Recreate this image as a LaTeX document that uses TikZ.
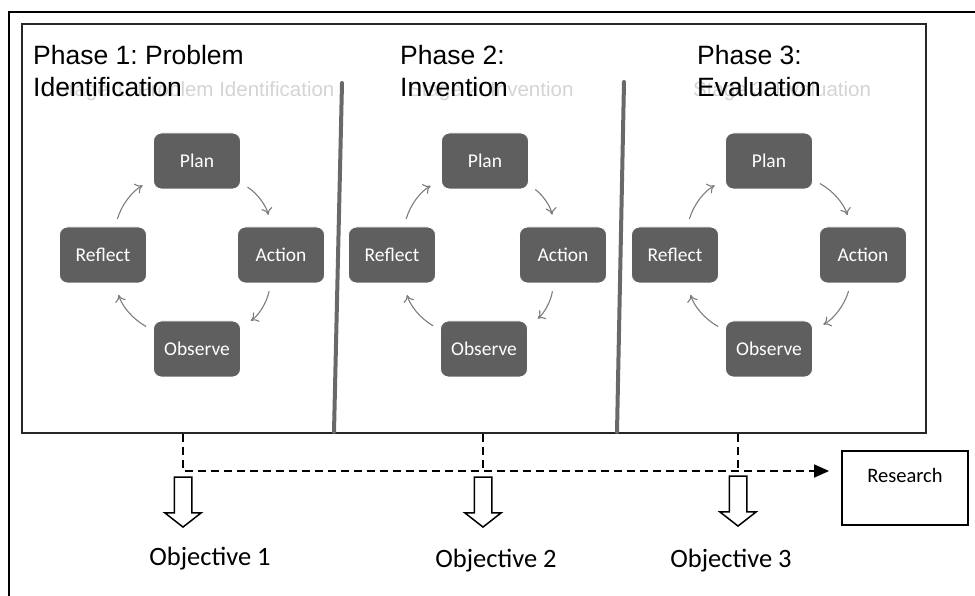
\documentclass[tikz,border=0pt]{standalone}
\usepackage{fontspec}
\setmainfont{Carlito}
\newfontfamily\headfont{Liberation Sans}
\usepackage{tikz}
\usetikzlibrary{arrows.meta,shapes.arrows}
\frenchspacing

\definecolor{boxgrey}{RGB}{95,95,95}
\definecolor{arcgrey}{RGB}{125,125,125}
\definecolor{sepgrey}{RGB}{105,105,105}

\tikzset{
  stepbox/.style={rectangle, rounded corners=8pt, fill=boxgrey, draw=white,
    line width=0.8pt, minimum width=87pt, minimum height=56pt, inner sep=0pt,
    text=white, font=\fontsize{19.5}{22}\selectfont},
  cyc/.style={draw=arcgrey, line width=1.1pt, -{To[length=7pt,width=11pt]},
    bend left=22, shorten <=8pt, shorten >=12pt},
  phasetext/.style={anchor=north west, inner sep=0pt, align=left,
    font=\headfont\fontsize{26.5}{32.5}\selectfont},
  ghost/.style={anchor=base west, inner sep=0pt, text=black!17,
    font=\headfont\fontsize{20.5}{24}\selectfont},
  hollow/.style={single arrow, draw, line width=1.5pt, fill=white,
    shape border rotate=270, minimum height=50pt, inner sep=8pt,
    single arrow head extend=9.5pt, single arrow tip angle=104},
  objtext/.style={anchor=base, inner sep=0pt, font=\fontsize{26.5}{30}\selectfont},
  busline/.style={line width=1.5pt, dash pattern=on 8pt off 5pt},
  sepline/.style={draw=sepgrey, line width=4pt, line cap=round}
}

\begin{document}
\begin{tikzpicture}[x=1pt, y=1pt]
	\useasboundingbox (0,0) rectangle (975,595);
	\draw [ line width=2pt ] (9,-10) rectangle (990,583);
	\node [ draw=black!85, line width=1.5pt, minimum width=904pt, minimum height=409pt ] (frame) at (474,366.5) {};

	% dividers between the phases
	\draw [ sepline ] (342,512) -- (334,163);
	\draw [ sepline ] (624,513) -- (617,163);

	% headings
	\node [ ghost ] (ghost1) at (55,498) {Stage 1: Problem Identification};
	\node [ ghost ] (ghost2) at (408,498) {Stage 2: Invention};
	\node [ ghost ] (ghost3) at (693,498) {Stage 3: Evaluation};
	\node [ phasetext ] (phase1) at (33,550) {Phase 1: Problem\\Identification};
	\node [ phasetext ] (phase2) at (400,550) {Phase 2:\\Invention};
	\node [ phasetext ] (phase3) at (697,550) {Phase 3:\\Evaluation};

	% phase 1 cycle
	\node [ stepbox ] (plan1) at (197,434) {Plan};
	\node [ stepbox ] (action1) at (281,340) {Action};
	\node [ stepbox ] (observe1) at (197,246) {Observe};
	\node [ stepbox ] (reflect1) at (103,340) {Reflect};
	\draw [ cyc ] (plan1) to (action1);
	\draw [ cyc ] (action1) to (observe1);
	\draw [ cyc ] (observe1) to (reflect1);
	\draw [ cyc ] (reflect1) to (plan1);

	% phase 2 cycle
	\node [ stepbox ] (plan2) at (485,434) {Plan};
	\node [ stepbox ] (action2) at (563,340) {Action};
	\node [ stepbox ] (observe2) at (484,246) {Observe};
	\node [ stepbox ] (reflect2) at (392,340) {Reflect};
	\draw [ cyc ] (plan2) to (action2);
	\draw [ cyc ] (action2) to (observe2);
	\draw [ cyc ] (observe2) to (reflect2);
	\draw [ cyc ] (reflect2) to (plan2);

	% phase 3 cycle
	\node [ stepbox ] (plan3) at (769,434) {Plan};
	\node [ stepbox ] (action3) at (863,340) {Action};
	\node [ stepbox ] (observe3) at (769,246) {Observe};
	\node [ stepbox ] (reflect3) at (675,340) {Reflect};
	\draw [ cyc ] (plan3) to (action3);
	\draw [ cyc ] (action3) to (observe3);
	\draw [ cyc ] (observe3) to (reflect3);
	\draw [ cyc ] (reflect3) to (plan3);

	% objectives and research
	\node [ draw, line width=1.8pt, minimum width=126pt, inner xsep=0pt, inner ysep=9pt,
		text height=22pt, text depth=34pt, font=\fontsize{20.5}{24}\selectfont ] (research) at (905,107) {Research};
	\node [ hollow, anchor=tip ] (arr1) at (183,67) {};
	\node [ hollow, anchor=tip ] (arr2) at (483,67) {};
	\node [ hollow, anchor=tip ] (arr3) at (738,68) {};
	\node [ objtext ] (obj1) at (210,30) {Objective 1};
	\node [ objtext ] (obj2) at (496,28) {Objective 2};
	\node [ objtext ] (obj3) at (731,28) {Objective 3};

	\coordinate (bus) at (183,124);
	\draw [ busline, -{Triangle[length=15pt,width=13pt]} ] (frame.south -| bus) -- (bus)
		-- ([xshift=-12pt]research.west |- bus);
	\draw [ busline ] (frame.south -| arr2) -- (arr2 |- bus);
	\draw [ busline ] (frame.south -| arr3) -- (arr3 |- bus);
\end{tikzpicture}
\end{document}
